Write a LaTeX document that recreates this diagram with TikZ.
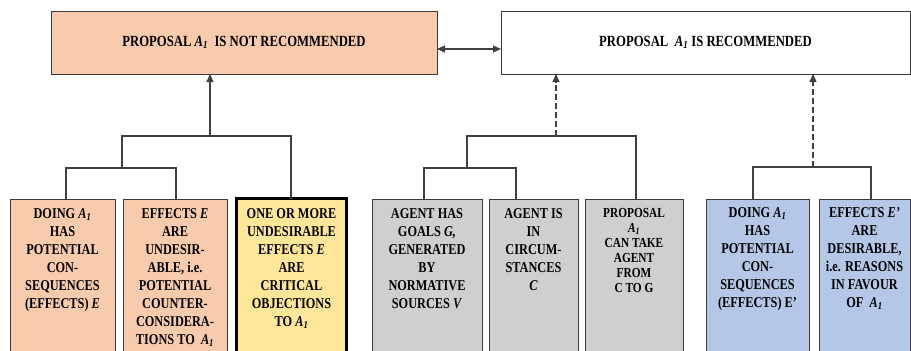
\documentclass[tikz,border=0pt]{standalone}
\usepackage{fontspec}
\setmainfont{Liberation Serif}[FakeStretch=0.82]
\usetikzlibrary{arrows.meta}
\definecolor{peach}{HTML}{F8CBAD}
\definecolor{gold}{HTML}{FFE699}
\definecolor{greybox}{HTML}{D0CECE}
\definecolor{bluebox}{HTML}{B4C7E7}
\definecolor{edgecol}{HTML}{3A3A3A}
\definecolor{conncol}{HTML}{404040}
\newcommand{\Aone}{\textit{A}\textsubscript{\textit{1}}}
\newcommand{\btext}[3][19pt]{\parbox[c][171pt][t]{#2}{\centering\rule{0pt}{#1}#3}}
\begin{document}
\begin{tikzpicture}[x=1pt,y=-1pt,
  topbox/.style={draw=edgecol, line width=1pt, inner sep=0pt, outer sep=0pt,
    minimum height=63pt, font=\fontsize{15.5}{18}\selectfont\bfseries},
  bbox/.style={draw=edgecol, line width=1pt, inner sep=0pt, outer sep=0pt,
    anchor=north west, font=\fontsize{15}{18}\selectfont\bfseries},
  conn/.style={draw=conncol, line width=1.1pt},
  tip/.style={-{Triangle[length=8pt,width=7pt]}},
  dashconn/.style={conn, dash pattern=on 6pt off 3pt}]
\useasboundingbox (0,0) rectangle (911,351);
\clip (0,0) rectangle (911,351);
% top boxes
\node[topbox, fill=peach, minimum width=386pt] (tl) at (244,42.5)
  {\raisebox{-1.5pt}{PROPOSAL \Aone\ \ IS NOT RECOMMENDED}};
\node[topbox, fill=white, minimum width=409pt] (tr) at (705.5,42.5)
  {\raisebox{-1.5pt}{PROPOSAL \ \Aone\ IS RECOMMENDED}};
% bottom boxes
\node[bbox, fill=peach] (b1) at (10,199) {\btext{105pt}{DOING \Aone\\ HAS\\ POTENTIAL\\ CON-\\ SEQUENCES\\ (EFFECTS) \textit{E}}};
\node[bbox, fill=peach] (b2) at (123,199) {\btext{104pt}{EFFECTS \textit{E}\\ ARE\\ UNDESIR-\\ ABLE, i.e.\\ POTENTIAL\\ COUNTER-\\ CONSIDERA-\\ TIONS TO \ \Aone}};
\node[bbox, fill=gold, draw=black, line width=3pt] (b3) at (236.5,198.5) {\btext[19.5pt]{110pt}{ONE OR MORE\\ UNDESIRABLE\\ EFFECTS \textit{E}\\ ARE\\ CRITICAL\\ OBJECTIONS\\ TO \Aone}};
\node[bbox, fill=greybox] (b4) at (372,199) {\btext{110pt}{AGENT HAS\\ GOALS \textit{G,}\\ GENERATED\\ BY\\ NORMATIVE\\ SOURCES \textit{V}}};
\node[bbox, fill=greybox] (b5) at (489,199) {\btext{89pt}{AGENT IS\\ IN\\ CIRCUM-\\ STANCES\\ \textit{C}}};
\node[bbox, fill=greybox, font=\fontsize{13.8}{15}\selectfont\bfseries] (b6) at (585,199) {\btext[18pt]{98pt}{PROPOSAL\\ \Aone\\ CAN TAKE\\ AGENT\\ FROM\\ C TO G}};
\node[bbox, fill=bluebox] (b7) at (706,199) {\btext[18pt]{103pt}{DOING \Aone\\ HAS\\ POTENTIAL\\ CON-\\ SEQUENCES\\ (EFFECTS) E'}};
\node[bbox, fill=bluebox] (b8) at (819,199) {\btext[18pt]{91pt}{EFFECTS \textit{E'}\\ ARE\\ DESIRABLE,\\ i.e. REASONS\\ IN FAVOUR\\ OF \ \Aone}};
% junctions
\coordinate (jA) at (122,168);
\coordinate (jB) at (210,136);
\coordinate (jC) at (467,168);
\coordinate (jD) at (556,136);
\coordinate (jE) at (813,167);
% top double arrow
\draw[conn, {Triangle[length=8pt,width=7pt]}-{Triangle[length=8pt,width=7pt]}]
  (tl.east |- 0,49) -- (tr.west |- 0,49);
% left group
\draw[conn] (b1.north -| 66,0) |- (jA) -| (b2.north -| 176,0);
\draw[conn] (jA) -- (jA |- jB) -| (b3.north -| 291,0);
\draw[conn, tip] (jB) -- (tl.south -| jB);
% middle group
\draw[conn] (b4.north -| 424,0) |- (jC) -| (b5.north -| 516,0);
\draw[conn] (jC) -- (jC |- jD) -| (b6.north -| 636,0);
\draw[dashconn, tip] (jD) -- (tr.south -| jD);
% right group
\draw[conn] (b7.north -| 753,0) |- (jE) -| (b8.north -| 871,0);
\draw[dashconn, tip] (jE) -- (tr.south -| jE);
\end{tikzpicture}
\end{document}
